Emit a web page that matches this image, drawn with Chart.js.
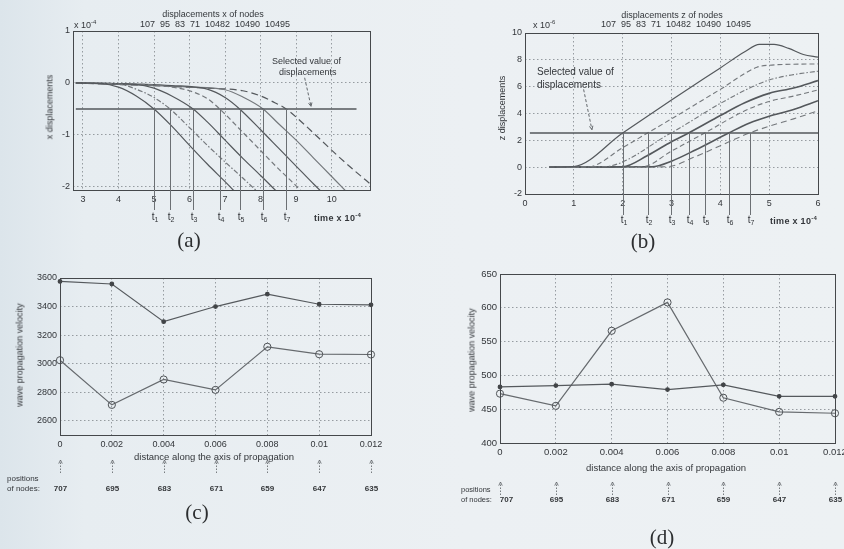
<!DOCTYPE html>
<html>
<head>
<meta charset="utf-8">
<script src="https://cdn.jsdelivr.net/npm/chart.js@4.4.1/dist/chart.umd.min.js"></script>
<style>
  html, body { margin: 0; padding: 0; }
  body {
    width: 844px; height: 549px; overflow: hidden; position: relative;
    background: linear-gradient(90deg, #dce5eb 0%, #e7edf1 10%, #ecf0f3 55%, #edf1f3 100%);
    font-family: "Liberation Sans", Arial, sans-serif; color: #33363a;
  }
  canvas { position: absolute; }
  .tx { position: absolute; white-space: nowrap; font-size: 9px; line-height: 1; transform: translateY(-50%); }
  .ctr { transform: translate(-50%, -50%); }
  .rot { transform: translate(-50%, -50%) rotate(-90deg); }
  .cap { position: absolute; font-family: "Liberation Serif", serif; font-size: 21px; color: #2c2e30; transform: translate(-50%, -50%); }
  sup { font-size: 6px; vertical-align: 4px; }
  .time { font-weight: bold; letter-spacing: 0.3px; }
</style>
</head>
<body>
<canvas id="chartA"></canvas>
<canvas id="chartB"></canvas>
<canvas id="chartC"></canvas>
<canvas id="chartD"></canvas>

<!-- (a) texts -->
<div class="tx ctr" style="left:213px;top:14px;">displacements x of nodes</div>
<div class="tx ctr" style="left:215px;top:24px;">107&nbsp; 95&nbsp; 83&nbsp; 71&nbsp; 10482&nbsp; 10490&nbsp; 10495</div>
<div class="tx" style="left:74px;top:24px;">x 10<sup>-4</sup></div>
<div class="tx rot" style="left:50px;top:107px;">x displacements</div>
<div class="tx" style="left:272px;top:61px;">Selected value of</div>
<div class="tx" style="left:279px;top:72px;">displacements</div>
<div class="tx time" style="left:314px;top:217px;">time x 10<sup>-4</sup></div>
<div class="cap" style="left:189px;top:240px;">(a)</div>

<!-- (b) texts -->
<div class="tx ctr" style="left:672px;top:15px;">displacements z of nodes</div>
<div class="tx ctr" style="left:676px;top:24px;">107&nbsp; 95&nbsp; 83&nbsp; 71&nbsp; 10482&nbsp; 10490&nbsp; 10495</div>
<div class="tx" style="left:533px;top:24px;">x 10<sup>-6</sup></div>
<div class="tx rot" style="left:502px;top:108px;">z displacements</div>
<div class="tx" style="left:537px;top:72px;font-size:10px;">Selected value of</div>
<div class="tx" style="left:537px;top:85px;font-size:10px;">displacements</div>
<div class="tx time" style="left:770px;top:220px;">time x 10<sup>-4</sup></div>
<div class="cap" style="left:643px;top:241px;">(b)</div>

<!-- (c) texts -->
<div class="tx rot" style="left:20px;top:355px;">wave propagation velocity</div>
<div class="tx ctr" style="left:214px;top:457px;font-size:9.5px;">distance along the axis of propagation</div>
<div class="tx" style="left:7px;top:479px;font-size:8px;">positions</div>
<div class="tx" style="left:7px;top:489px;font-size:8px;">of nodes:</div>
<div class="cap" style="left:197px;top:512px;">(c)</div>

<!-- (d) texts -->
<div class="tx rot" style="left:472px;top:360px;">wave propagation velocity</div>
<div class="tx ctr" style="left:666px;top:468px;font-size:9.5px;">distance along the axis of propagation</div>
<div class="tx" style="left:461px;top:490px;font-size:7.5px;">positions</div>
<div class="tx" style="left:461px;top:500px;font-size:7.5px;">of nodes:</div>
<div class="cap" style="left:662px;top:537px;">(d)</div>

<script>
// ---- (a) x displacements of nodes, time x 1e-4 ----
const A_XTICKS = [3, 4, 5, 6, 7, 8, 9, 10];
const A_YTICKS = [1, 0, -1, -2];
const A_SELECTED = -0.5;
const A_T = [5.0, 5.45, 6.1, 6.85, 7.41, 8.07, 8.72];
const A_CURVE1 = [[2.8, 0], [3.5, -0.01], [4.0, -0.08], [4.5, -0.25], [5.0, -0.5], [5.5, -0.83], [6.0, -1.2], [6.5, -1.56], [7.0, -1.9], [7.5, -2.25]];
const A_CURVE2 = [[2.8, 0], [4.0, -0.02], [4.5, -0.12], [5.0, -0.28], [5.45, -0.5], [6.0, -0.86], [6.5, -1.2], [7.0, -1.52], [7.5, -1.83], [8.0, -2.15]];
const A_CURVE3 = [[2.8, 0], [4.5, -0.03], [5.0, -0.1], [5.5, -0.25], [6.1, -0.5], [6.5, -0.75], [7.0, -1.1], [7.5, -1.45], [8.0, -1.78], [8.5, -2.12]];
const A_CURVE4 = [[2.8, 0], [5.0, -0.04], [5.5, -0.08], [6.0, -0.15], [6.5, -0.3], [6.85, -0.5], [7.5, -0.95], [8.0, -1.3], [8.5, -1.65], [9.0, -1.98], [9.3, -2.2]];
const A_CURVE5 = [[2.8, 0], [5.5, -0.05], [6.5, -0.12], [7.0, -0.28], [7.41, -0.5], [8.0, -0.9], [8.5, -1.25], [9.0, -1.6], [9.5, -1.95], [9.8, -2.15]];
const A_CURVE6 = [[2.8, 0], [6.0, -0.08], [7.0, -0.13], [7.5, -0.27], [8.07, -0.5], [8.5, -0.78], [9.0, -1.1], [9.5, -1.45], [10.0, -1.8], [10.5, -2.15]];
const A_CURVE7 = [[2.8, 0], [6.5, -0.1], [7.5, -0.15], [8.0, -0.25], [8.4, -0.38], [8.72, -0.5], [9.2, -0.78], [9.7, -1.1], [10.2, -1.42], [10.7, -1.72], [11.1, -1.95]];

// ---- (b) z displacements of nodes ----
const B_XTICKS = [0, 1, 2, 3, 4, 5, 6];
const B_YTICKS = [-2, 0, 2, 4, 6, 8, 10];
const B_SELECTED = 2.55;
const B_T = [2.0, 2.51, 2.99, 3.35, 3.68, 4.17, 4.6];
const B_CURVE1 = [[0.5, 0], [1.0, 0.05], [2.0, 2.55], [3.0, 5.0], [4.0, 7.4], [4.5, 8.6], [4.8, 9.15], [5.1, 9.15], [5.4, 8.85], [5.7, 8.4], [6.0, 8.2]];
const B_CURVE2 = [[0.5, 0], [1.3, 0.03], [2.0, 1.45], [2.51, 2.55], [3.0, 3.6], [4.0, 5.8], [4.75, 7.45], [5.0, 7.6], [6.0, 7.7]];
const B_CURVE3 = [[0.5, 0], [1.6, 0.03], [2.99, 2.55], [4.0, 4.75], [4.6, 5.9], [5.0, 6.5], [5.5, 6.9], [6.0, 7.15]];
const B_CURVE4 = [[0.5, 0], [2.0, 0.03], [2.5, 0.85], [3.0, 1.9], [3.35, 2.55], [4.0, 3.85], [4.5, 4.8], [5.0, 5.5], [5.5, 5.9], [6.0, 6.45]];
const B_CURVE5 = [[0.5, 0], [2.4, 0.03], [3.0, 1.2], [3.68, 2.55], [4.5, 4.2], [5.0, 4.9], [5.5, 5.3], [6.0, 5.75]];
const B_CURVE6 = [[0.5, 0], [2.6, 0.03], [3.0, 0.45], [3.5, 1.3], [4.17, 2.55], [4.6, 3.3], [5.0, 3.8], [5.5, 4.3], [6.0, 4.95]];
const B_CURVE7 = [[0.5, 0], [2.9, 0.03], [3.5, 0.8], [4.0, 1.6], [4.6, 2.55], [5.0, 3.05], [5.5, 3.6], [6.0, 4.2]];

// ---- (c), (d) wave propagation velocity along the axis ----
const DIST = [0, 0.002, 0.004, 0.006, 0.008, 0.01, 0.012];
const DIST_LABELS = ['0', '0.002', '0.004', '0.006', '0.008', '0.01', '0.012'];
const NODE_POS = [707, 695, 683, 671, 659, 647, 635];
const C_YTICKS = [2600, 2800, 3000, 3200, 3400, 3600];
const C_UPPER = [3576, 3558, 3294, 3400, 3487, 3416, 3412];
const C_LOWER = [3024, 2711, 2889, 2816, 3118, 3066, 3064];
const D_YTICKS = [400, 450, 500, 550, 600, 650];
const D_UPPER = [483, 485, 487, 479, 486, 469, 469];
const D_LOWER = [473, 455, 566, 608, 467, 446, 444];

const FONT = '"Liberation Sans", Arial, sans-serif';
const INK = '#33363a';
const GRID = '#80868c';
const LINE = '#54585c';

// line styles for the displacement curves (solid / dashed / dash-dot)
const A_STYLE = [[], [5, 2, 1.5, 2], [], [5, 3], [], [], [7, 4]];
const B_STYLE = [[], [5, 3], [5, 2, 1.5, 2], [], [5, 3], [], [6, 4]];
const B_WIDTH = [1.2, 1.1, 1.1, 1.6, 1.1, 1.6, 1.1];

function axis(min, max, ticks, fmt, isX, size) {
  return {
    type: 'linear', min, max,
    afterBuildTicks: s => { s.ticks = ticks.map(v => ({ value: v })); },
    afterFit: s => {
      if (isX) { s.height = 14; s.paddingLeft = 0; s.paddingRight = 0; }
      else { s.width = 24; s.paddingTop = 0; s.paddingBottom = 0; }
    },
    grid: { color: GRID, lineWidth: 0.8, drawTicks: false },
    border: { display: false, dash: [1.5, 2.5] },
    ticks: {
      color: INK, font: { family: FONT, size: size || 9 },
      padding: isX ? 4 : 3, maxRotation: 0, autoSkip: false, callback: fmt
    }
  };
}

function arrow(ctx, x1, y1, x2, y2, dash) {
  ctx.setLineDash(dash || []);
  ctx.beginPath(); ctx.moveTo(x1, y1); ctx.lineTo(x2, y2); ctx.stroke();
  ctx.setLineDash([]);
  const ang = Math.atan2(y2 - y1, x2 - x1);
  ctx.beginPath();
  ctx.moveTo(x2, y2);
  ctx.lineTo(x2 - 4 * Math.cos(ang - 0.45), y2 - 4 * Math.sin(ang - 0.45));
  ctx.moveTo(x2, y2);
  ctx.lineTo(x2 - 4 * Math.cos(ang + 0.45), y2 - 4 * Math.sin(ang + 0.45));
  ctx.stroke();
}

function extras(o) {
  return {
    id: 'extras',
    afterDatasetsDraw(chart) {
      const { ctx, chartArea: a, scales: { x, y } } = chart;
      ctx.save();
      ctx.lineWidth = 1;
      ctx.strokeStyle = '#45484b';
      ctx.strokeRect(Math.round(a.left) + 0.5, Math.round(a.top) + 0.5, Math.round(a.right - a.left), Math.round(a.bottom - a.top));

      // drop lines at the crossing times t1..t7
      if (o.tLines) {
        const top = y.getPixelForValue(o.selected);
        o.tLines.forEach((t, i) => {
          const px = Math.round(x.getPixelForValue(t)) + 0.5;
          ctx.strokeStyle = '#6c7074';
          ctx.lineWidth = 1;
          ctx.beginPath(); ctx.moveTo(px, top); ctx.lineTo(px, a.bottom + o.tDrop); ctx.stroke();
          ctx.fillStyle = INK;
          ctx.textBaseline = 'middle';
          ctx.font = `10px ${FONT}`; ctx.textAlign = 'right';
          ctx.fillText('t', px, a.bottom + o.tLabel);
          ctx.font = `7px ${FONT}`; ctx.textAlign = 'left';
          ctx.fillText(String(i + 1), px, a.bottom + o.tLabel + 3);
        });
      }

      // pointer from the "Selected value" note to the line
      if (o.pointer) {
        ctx.strokeStyle = '#55595d';
        ctx.lineWidth = 0.9;
        const [f, t] = o.pointer;
        arrow(ctx, x.getPixelForValue(f[0]), y.getPixelForValue(f[1]),
              x.getPixelForValue(t[0]), y.getPixelForValue(t[1]), [3, 2]);
      }

      // node position arrows under the distance axis
      if (o.nodes) {
        ctx.strokeStyle = '#6a6e72';
        ctx.lineWidth = 0.9;
        ctx.fillStyle = '#34373a';
        ctx.font = `bold 8px ${FONT}`;
        ctx.textAlign = 'center';
        ctx.textBaseline = 'middle';
        DIST.forEach((d, i) => {
          const px = Math.round(x.getPixelForValue(d)) + 0.5;
          arrow(ctx, px, a.bottom + o.arrowBottom, px, a.bottom + o.arrowTop, [1.5, 1.5]);
          ctx.fillText(String(o.nodes[i]), px + (i === 0 ? o.firstShift : 0), a.bottom + o.numY);
        });
      }
      ctx.restore();
    }
  };
}

function panel(id, rect, box, datasets, xs, ys, extra) {
  const cv = document.getElementById(id);
  const [ox, oy, cw, ch] = rect;
  cv.width = cw; cv.height = ch;
  Object.assign(cv.style, { left: ox + 'px', top: oy + 'px', width: cw + 'px', height: ch + 'px' });
  return new Chart(cv, {
    type: 'line',
    data: { datasets },
    options: {
      responsive: false,
      animation: false,
      events: [],
      layout: {
        padding: { left: box.l - ox - 24, top: box.t - oy, right: ox + cw - box.r, bottom: oy + ch - box.b - 14 }
      },
      plugins: { legend: { display: false }, tooltip: { enabled: false } },
      scales: { x: xs, y: ys }
    },
    plugins: [extras(extra)]
  });
}

const toXY = pts => pts.map(([x, y]) => ({ x, y }));
const curve = (pts, dash, width, color) => ({
  data: toXY(pts), borderColor: color || LINE, borderWidth: width || 1.2, borderDash: dash,
  pointRadius: 0, cubicInterpolationMode: 'monotone', fill: false
});
const flat = (x0, x1, v) => ({
  data: [{ x: x0, y: v }, { x: x1, y: v }], borderColor: '#53575b', borderWidth: 1.6, pointRadius: 0
});
const num = v => String(v);
const distLabel = v => DIST_LABELS[DIST.indexOf(v)] ?? '';

// (a)
const aCurves = [A_CURVE1, A_CURVE2, A_CURVE3, A_CURVE4, A_CURVE5, A_CURVE6, A_CURVE7];
panel('chartA', [0, 0, 422, 250], { l: 73, t: 31, r: 370, b: 190 },
  [flat(2.8, 10.7, A_SELECTED), ...aCurves.map((c, i) => curve(c, A_STYLE[i], 1.2, i % 2 ? '#74787c' : LINE))],
  axis(2.72, 11.08, A_XTICKS, num, true),
  axis(-2.06, 1, A_YTICKS, num, false),
  { tLines: A_T, selected: A_SELECTED, tDrop: 20, tLabel: 27, pointer: [[9.24, 0.1], [9.42, -0.45]] });

// (b)
const bCurves = [B_CURVE1, B_CURVE2, B_CURVE3, B_CURVE4, B_CURVE5, B_CURVE6, B_CURVE7];
panel('chartB', [422, 0, 422, 250], { l: 525, t: 33, r: 818, b: 194 },
  [flat(0.1, 6, B_SELECTED), ...bCurves.map((c, i) => curve(c, B_STYLE[i], B_WIDTH[i], B_STYLE[i].length ? '#74787c' : LINE))],
  axis(0, 6, B_XTICKS, num, true),
  axis(-2, 10, B_YTICKS, num, false),
  { tLines: B_T, selected: B_SELECTED, tDrop: 21, tLabel: 26, pointer: [[1.2, 5.8], [1.37, 2.8]] });

// (c), (d) share the two series styles: dots on top, open circles below
const dots = vals => ({
  data: DIST.map((d, i) => ({ x: d, y: vals[i] })), borderColor: '#55595d', borderWidth: 1.2,
  pointRadius: 1.8, pointBackgroundColor: '#414447', pointBorderColor: '#414447', clip: 6
});
const rings = vals => ({
  data: DIST.map((d, i) => ({ x: d, y: vals[i] })), borderColor: '#666a6e', borderWidth: 1.2,
  pointRadius: 3.6, pointBackgroundColor: 'rgba(0,0,0,0)', pointBorderColor: '#505458', pointBorderWidth: 1, clip: 6
});

panel('chartC', [0, 250, 422, 299], { l: 60, t: 278, r: 371, b: 435 },
  [dots(C_UPPER), rings(C_LOWER)],
  axis(0, 0.012, DIST, distLabel, true),
  axis(2500, 3600, C_YTICKS, num, false),
  { nodes: NODE_POS, arrowTop: 25, arrowBottom: 38, numY: 54, firstShift: 0 });

panel('chartD', [422, 250, 422, 299], { l: 500, t: 274, r: 835, b: 443 },
  [dots(D_UPPER), rings(D_LOWER)],
  axis(0, 0.012, DIST, distLabel, true, 9.5),
  axis(400, 650, D_YTICKS, num, false, 9.5),
  { nodes: NODE_POS, arrowTop: 39, arrowBottom: 52, numY: 57, firstShift: 6 });
</script>
</body>
</html>
